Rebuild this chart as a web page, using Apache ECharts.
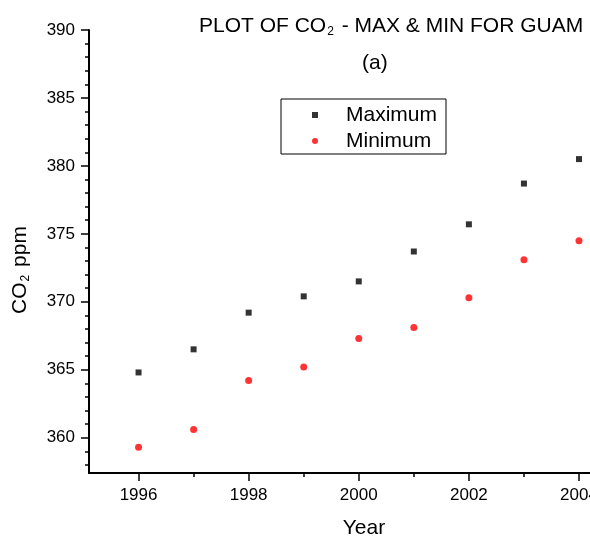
<!DOCTYPE html>
<html>
<head>
<meta charset="utf-8">
<script src="https://cdn.jsdelivr.net/npm/echarts@6/dist/echarts.min.js"></script>
<style>
  html, body { margin: 0; padding: 0; background: #fff; }
  #main { width: 590px; height: 540px; }
</style>
</head>
<body>
<div id="main"></div>
<script>
var years = [1996, 1997, 1998, 1999, 2000, 2001, 2002, 2003, 2004];
var maxVals = [364.8, 366.5, 369.2, 370.4, 371.5, 373.7, 375.7, 378.7, 380.5];
var minVals = [359.3, 360.6, 364.2, 365.2, 367.3, 368.1, 370.3, 373.1, 374.5];
var xMajor = [1996, 1998, 2000, 2002, 2004];
var xMinor = [1997, 1999, 2001, 2003];
var yMajor = [360, 365, 370, 375, 380, 385, 390];
var yMinor = [358, 359, 361, 362, 363, 364, 366, 367, 368, 369, 371, 372, 373, 374,
              376, 377, 378, 379, 381, 382, 383, 384, 386, 387, 388, 389];

var font = '"Liberation Sans", Arial, sans-serif';
var subRich = {
  n: { fontSize: 21, fontFamily: font, fontWeight: 'normal', color: '#000', lineHeight: 24 },
  s: { fontSize: 12, fontFamily: font, fontWeight: 'normal', color: '#000', lineHeight: 12, verticalAlign: 'bottom', padding: [22, 2, 0, 1] }
};

var chart = echarts.init(document.getElementById('main'));

function pair(vals) {
  return years.map(function (y, i) { return [y, vals[i]]; });
}

// axes: main one carries line, major ticks and labels; the twin only draws minor ticks
var lineStyle = { color: '#000', width: 2 };

chart.setOption({
  animation: false,
  backgroundColor: '#fff',
  title: [{
    text: '{n|PLOT OF CO}{s|2}{n| - MAX & MIN FOR GUAM}',
    left: 199,
    top: 14,
    padding: 0,
    textStyle: { fontWeight: 'normal', rich: subRich }
  }, {
    text: '(a)',
    left: 362,
    top: 53,
    padding: 0,
    textStyle: { fontSize: 21, fontFamily: font, color: '#000', fontWeight: 'normal' }
  }],
  legend: {
    orient: 'vertical',
    left: 281,
    top: 99,
    padding: [4, 9, 1, 31],
    itemWidth: 6,
    itemHeight: 6,
    itemGap: 2,
    borderColor: '#000',
    borderWidth: 1,
    textStyle: { fontSize: 21, fontFamily: font, color: '#000', lineHeight: 24, padding: [0, 0, 0, 23] },
    data: ['Maximum', 'Minimum']
  },
  grid: { left: 89, top: 30, width: 501, height: 443, containLabel: false, outerBoundsMode: 'none' },
  xAxis: [{
    type: 'value',
    min: 1995.1,
    max: 2004.2,
    axisLine: { show: true, lineStyle: lineStyle },
    axisTick: { show: true, length: 8, lineStyle: { color: '#000', width: 1.5 }, customValues: xMajor },
    axisLabel: {
      customValues: xMajor, margin: 14, fontSize: 17, fontFamily: font, color: '#000',
      alignMaxLabel: 'center', alignMinLabel: 'center', hideOverlap: false,
      formatter: function (v) { return String(v); }
    },
    splitLine: { show: false }
  }, {
    type: 'value',
    min: 1995.1,
    max: 2004.2,
    position: 'bottom',
    axisLine: { show: false },
    axisTick: { show: true, length: 4, lineStyle: { color: '#000', width: 1.5 }, customValues: xMinor },
    axisLabel: { show: false },
    splitLine: { show: false }
  }],
  yAxis: [{
    type: 'value',
    min: 357.4,
    max: 390,
    axisLine: { show: true, lineStyle: lineStyle },
    axisTick: { show: true, length: 8, lineStyle: { color: '#000', width: 1.5 }, customValues: yMajor },
    axisLabel: { customValues: yMajor, margin: 14, fontSize: 17, fontFamily: font, color: '#000' },
    splitLine: { show: false }
  }, {
    type: 'value',
    min: 357.4,
    max: 390,
    position: 'left',
    axisLine: { show: false },
    axisTick: { show: true, length: 4, lineStyle: { color: '#000', width: 1.5 }, customValues: yMinor },
    axisLabel: { show: false },
    splitLine: { show: false }
  }],
  graphic: [{
    type: 'text',
    x: 20,
    y: 270,
    rotation: Math.PI / 2,
    style: {
      text: '{n|CO}{s|2}{n| ppm}',
      rich: subRich,
      align: 'center',
      verticalAlign: 'middle'
    }
  }, {
    type: 'text',
    x: 364,
    y: 528,
    style: {
      text: 'Year',
      font: '21px ' + font,
      fill: '#000',
      align: 'center',
      verticalAlign: 'middle'
    }
  }],
  series: [{
    name: 'Maximum',
    type: 'scatter',
    symbol: 'rect',
    symbolSize: 6,
    itemStyle: { color: '#000' },
    data: pair(maxVals)
  }, {
    name: 'Minimum',
    type: 'scatter',
    symbol: 'circle',
    symbolSize: 7,
    itemStyle: { color: '#ff0000' },
    data: pair(minVals)
  }]
});
</script>
</body>
</html>
